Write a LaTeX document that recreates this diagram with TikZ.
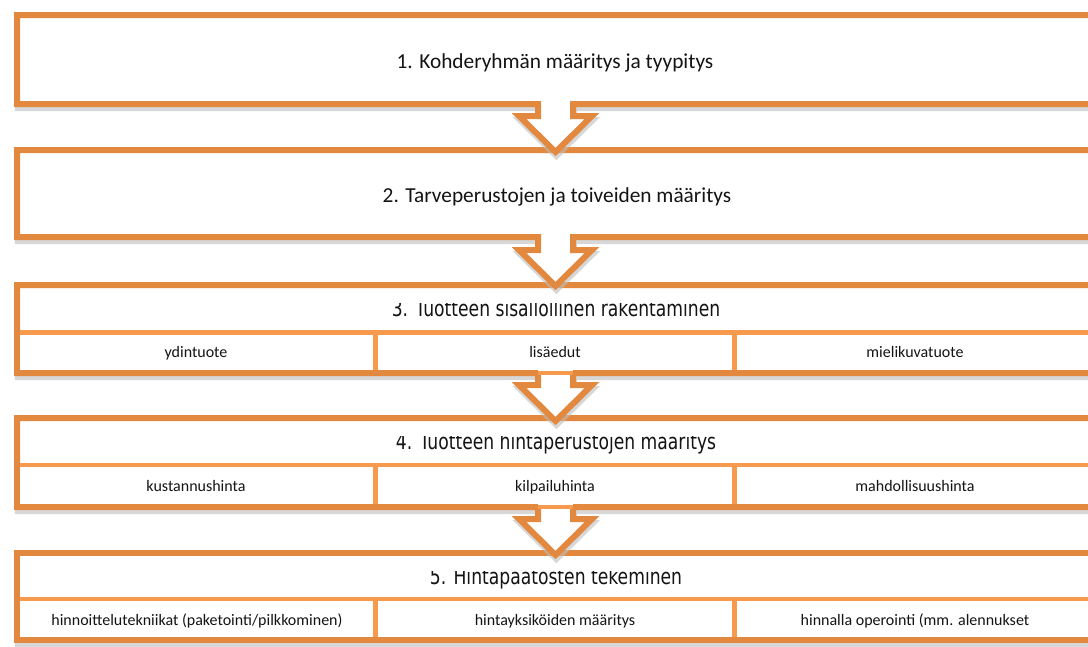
\documentclass[tikz,border=0pt]{standalone}
\usepackage{fontspec}
\setmainfont{Carlito}
\newfontfamily\headfont[FakeStretch=0.78]{DejaVu Sans}
\definecolor{boxorange}{HTML}{E2893F}
\definecolor{cellorange}{HTML}{F79A4E}
\definecolor{shadowgray}{HTML}{BDBDBD}

\begin{document}
\begin{tikzpicture}[x=0.75pt,y=-0.75pt,
  frame/.style={draw=boxorange,line width=4.5pt,fill=white,line join=miter},
  frameshadow/.style={draw=shadowgray,line width=4.5pt,line join=miter,opacity=0.6,yshift=-3pt,xshift=0.6pt},
  cell/.style={draw=cellorange,line width=3.6pt,fill=white},
  arrowframe/.style n args={4}{insert path={
    (17,#1) -- (1100,#1) -- (1100,#2) -- (573,#2) -- (573,#3) -- (592,#3)
    -- (555.5,#4) -- (519,#3) -- (538,#3) -- (538,#2) -- (17,#2) -- cycle}},
  title/.style={anchor=base,font=\fontsize{16pt}{19pt}\selectfont,text=black!92},
  headtitle/.style={anchor=base,font=\headfont\fontsize{16.5pt}{20pt}\selectfont,text=black!92},
  celltext/.style={anchor=base,font=\fontsize{12pt}{14pt}\selectfont,text=black!92}]
\clip (0,0) rectangle (1088,646);
\fill[white] (0,0) rectangle (1088,646);

% step 5: plain frame with three cells
\path[frameshadow] (17,553) rectangle (1100,640);
\path[frame] (17,553) rectangle (1100,640);
\path[cell] (17,599) rectangle (375.5,640);
\path[cell] (375.5,599) rectangle (734.5,640);
\path[cell] (734.5,599) rectangle (1100,640);
\path[frame,fill=none] (17,553) rectangle (1100,640);
\node[celltext] (c51) at (197,625) {hinnoittelutekniikat (paketointi/pilkkominen)};
\node[celltext] (c52) at (555,625) {hintayksiköiden määritys};
\node[celltext] (c53) at (915,625) {hinnalla operointi (mm. alennukset};
\begin{scope}
  \clip (0,571) rectangle (1088,598);
  \node[headtitle] (t5) at (556,584) {5. Hintapäätösten tekeminen};
\end{scope}

% step 4: frame with arrow and three cells
\path[frameshadow,arrowframe={418}{507}{519}{555}];
\path[frame,arrowframe={418}{507}{519}{555}];
\path[cell] (17,465) rectangle (375.5,507);
\path[cell] (375.5,465) rectangle (734.5,507);
\path[cell] (734.5,465) rectangle (1100,507);
\draw[boxorange,line width=4.5pt] (17,418) -- (17,507) -- (538,507);
\draw[boxorange,line width=4.5pt] (573,507) -- (1100,507);
\node[celltext] (c41) at (196,491) {kustannushinta};
\node[celltext] (c42) at (555,491) {kilpailuhinta};
\node[celltext] (c43) at (915,491) {mahdollisuushinta};
\begin{scope}
  \clip (0,436) rectangle (1088,464);
  \node[headtitle] (t4) at (556,449) {4. Tuotteen hintaperustojen määritys};
\end{scope}

% step 3: frame with arrow and three cells
\path[frameshadow,arrowframe={285}{373}{385}{421}];
\path[frame,arrowframe={285}{373}{385}{421}];
\path[cell] (17,332.5) rectangle (375.5,373);
\path[cell] (375.5,332.5) rectangle (734.5,373);
\path[cell] (734.5,332.5) rectangle (1100,373);
\draw[boxorange,line width=4.5pt] (17,285) -- (17,373) -- (538,373);
\draw[boxorange,line width=4.5pt] (573,373) -- (1100,373);
\node[celltext] (c31) at (196,357) {ydintuote};
\node[celltext] (c32) at (555,357) {lisäedut};
\node[celltext] (c33) at (915,357) {mielikuvatuote};
\begin{scope}
  \clip (0,303) rectangle (1088,331);
  \node[headtitle] (t3) at (556,316) {3. Tuotteen sisällöllinen rakentaminen};
\end{scope}

% step 2
\path[frameshadow,arrowframe={150}{237}{250}{286}];
\path[frame,arrowframe={150}{237}{250}{286}];
\node[title] (t2) at (557,202) {2. Tarveperustojen ja toiveiden määritys};

% step 1
\path[frameshadow,arrowframe={15}{104}{116}{152}];
\path[frame,arrowframe={15}{104}{116}{152}];
\node[title] (t1) at (555,68) {1. Kohderyhmän määritys ja tyypitys};
\end{tikzpicture}
\end{document}
